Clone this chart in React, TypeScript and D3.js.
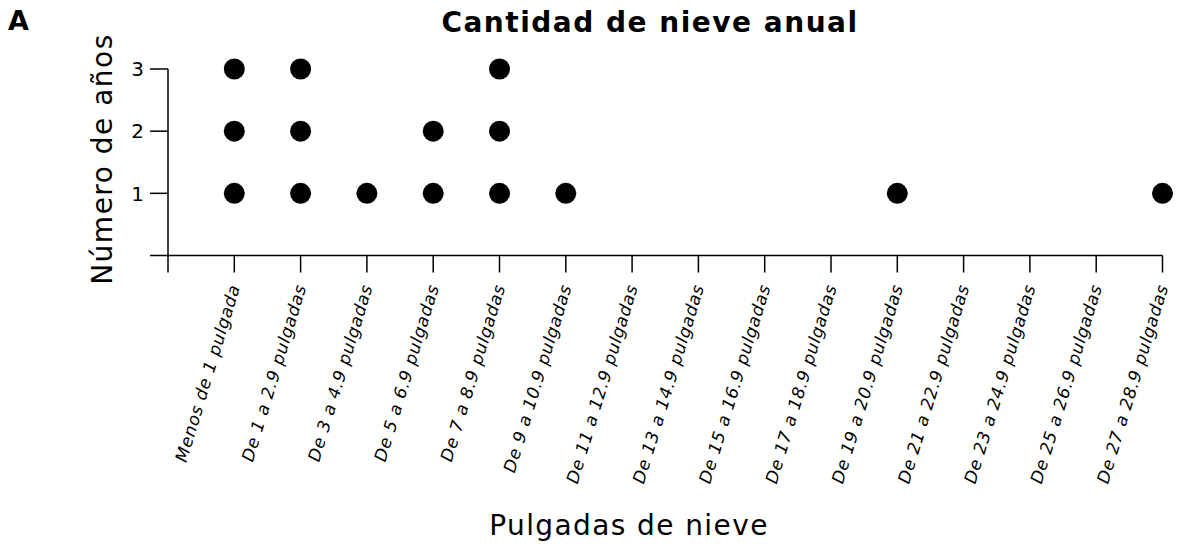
import React, { useRef, useEffect } from "react";
import * as d3 from "d3";

// categories (snowfall ranges) and number of years in each
const categories = [
  "Menos de 1 pulgada",
  "De 1 a 2.9 pulgadas",
  "De 3 a 4.9 pulgadas",
  "De 5 a 6.9 pulgadas",
  "De 7 a 8.9 pulgadas",
  "De 9 a 10.9 pulgadas",
  "De 11 a 12.9 pulgadas",
  "De 13 a 14.9 pulgadas",
  "De 15 a 16.9 pulgadas",
  "De 17 a 18.9 pulgadas",
  "De 19 a 20.9 pulgadas",
  "De 21 a 22.9 pulgadas",
  "De 23 a 24.9 pulgadas",
  "De 25 a 26.9 pulgadas",
  "De 27 a 28.9 pulgadas",
];
const yearCounts = [3, 3, 1, 2, 3, 1, 0, 0, 0, 0, 1, 0, 0, 0, 1];
const yTicks = [1, 2, 3];

const W = 1180;
const H = 548;
const FONT = "'DejaVu Sans', Verdana, sans-serif";

const App = () => {
  const svgRef = useRef<SVGSVGElement>(null);

  useEffect(() => {
    const svg = d3.select(svgRef.current);
    svg.selectAll("*").remove();

    const x0 = 168;
    const x1 = 1162.5;
    const yBase = 255.5;

    // x: index 0 is the axis origin, categories at 1..15
    const x = d3.scaleLinear().domain([0, categories.length]).range([x0, x1]);
    const y = d3.scaleLinear().domain([0, 3]).range([yBase, 69]);

    const g = svg.append("g");

    // baseline
    g.append("line")
      .attr("x1", 150).attr("x2", x1)
      .attr("y1", yBase).attr("y2", yBase)
      .attr("stroke", "#000").attr("stroke-width", 1.5);

    // vertical axis
    g.append("line")
      .attr("x1", x0).attr("x2", x0)
      .attr("y1", y(3)).attr("y2", yBase + 17)
      .attr("stroke", "#000").attr("stroke-width", 1.5);

    // y ticks
    g.selectAll(".ytick")
      .data(yTicks)
      .enter()
      .append("line")
      .attr("x1", 150).attr("x2", x0)
      .attr("y1", d => y(d)).attr("y2", d => y(d))
      .attr("stroke", "#000").attr("stroke-width", 1.5);

    g.selectAll(".ylab")
      .data(yTicks)
      .enter()
      .append("text")
      .attr("x", 144)
      .attr("y", d => y(d))
      .attr("dy", "0.36em")
      .attr("text-anchor", "end")
      .attr("font-family", FONT)
      .attr("font-size", 20)
      .text(d => d);

    // x ticks
    g.selectAll(".xtick")
      .data(categories)
      .enter()
      .append("line")
      .attr("x1", (_, i) => x(i + 1)).attr("x2", (_, i) => x(i + 1))
      .attr("y1", yBase).attr("y2", yBase + 17)
      .attr("stroke", "#000").attr("stroke-width", 1.5);

    // x labels
    g.selectAll(".xlab")
      .data(categories)
      .enter()
      .append("text")
      .attr("transform", (_, i) => `translate(${x(i + 1) + 6},${yBase + 31}) rotate(-73)`)
      .attr("text-anchor", "end")
      .attr("font-family", FONT)
      .attr("font-style", "italic")
      .attr("font-size", 17)
      .attr("letter-spacing", 0.7)
      .text(d => d);

    // dots
    const dots = categories.flatMap((c, i) =>
      d3.range(1, yearCounts[i] + 1).map(k => ({ i, k }))
    );
    g.selectAll("circle")
      .data(dots)
      .enter()
      .append("circle")
      .attr("cx", d => x(d.i + 1))
      .attr("cy", d => y(d.k))
      .attr("r", 10.5)
      .attr("fill", "#000");

    // titles
    svg.append("text")
      .attr("x", 650).attr("y", 32)
      .attr("text-anchor", "middle")
      .attr("font-family", FONT)
      .attr("font-weight", "bold")
      .attr("font-size", 28)
      .attr("letter-spacing", 1.5)
      .text("Cantidad de nieve anual");

    svg.append("text")
      .attr("x", 8).attr("y", 30)
      .attr("font-family", FONT)
      .attr("font-weight", "bold")
      .attr("font-size", 27)
      .text("A");

    svg.append("text")
      .attr("transform", `translate(112,159) rotate(-90)`)
      .attr("text-anchor", "middle")
      .attr("font-family", FONT)
      .attr("font-size", 28)
      .attr("letter-spacing", 1.5)
      .text("Número de años");

    svg.append("text")
      .attr("x", 629).attr("y", 535)
      .attr("text-anchor", "middle")
      .attr("font-family", FONT)
      .attr("font-size", 28)
      .attr("letter-spacing", 1.4)
      .text("Pulgadas de nieve");
  }, []);

  return (
    <svg
      ref={svgRef}
      width={W}
      height={H}
      style={{ position: "absolute", left: 0, top: 0, background: "#fff" }}
    />
  );
};

export default App;
